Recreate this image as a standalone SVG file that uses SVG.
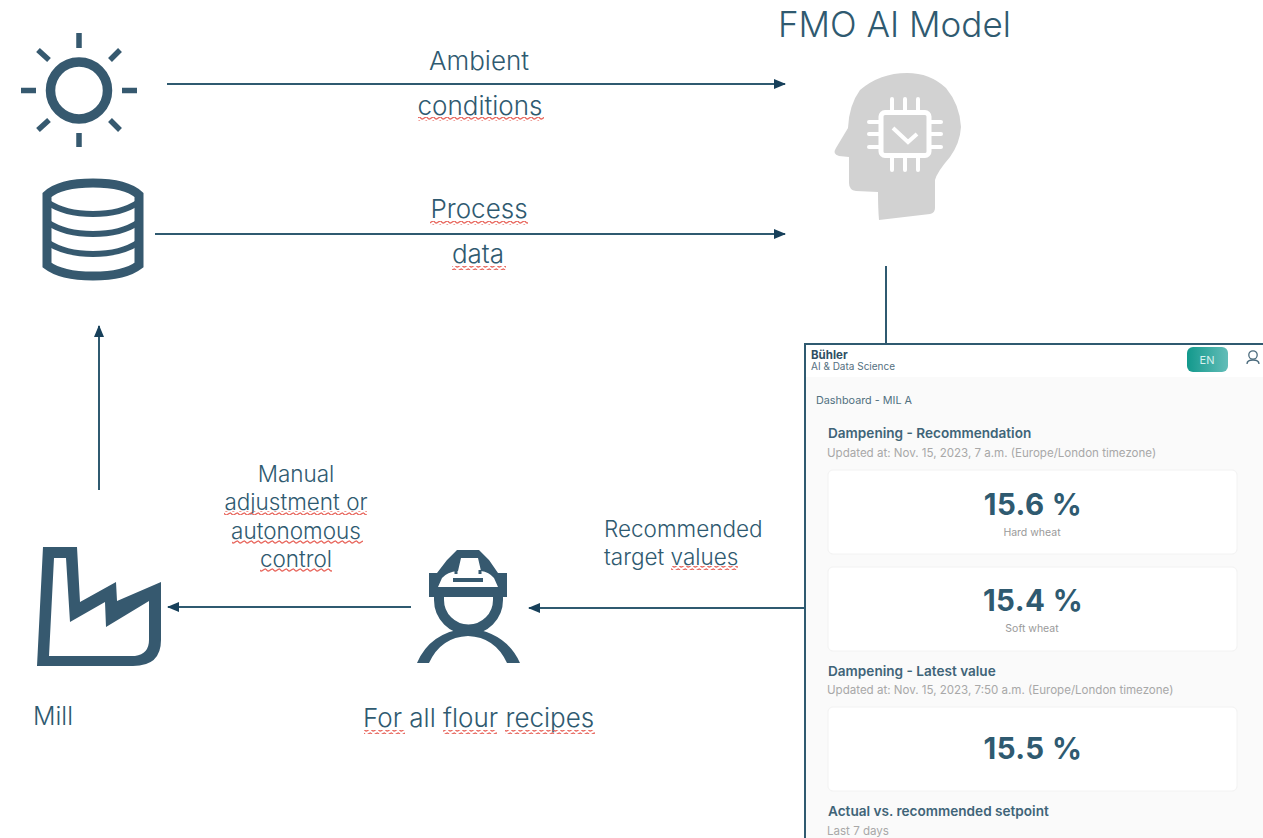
<svg xmlns="http://www.w3.org/2000/svg" width="1263" height="838" viewBox="0 0 1263 838">
<style>
text{font-family:Inter,"Liberation Sans",sans-serif}
.l{font-size:26px;fill:#2f5a70;font-weight:300}
.n{font-size:22.5px}
.m{text-anchor:middle}
.c{stroke:#2f5a70;stroke-width:2;fill:none}
.i{stroke:#36596f;fill:none;stroke-width:9}
.card{fill:#fff;stroke:#f2f2f2}
.v{font-size:29.5px;font-weight:700;fill:#2f5a70;text-anchor:middle;letter-spacing:.4px}
.h{font-size:13.6px;font-weight:600;fill:#3f6478}
.u{font-size:11.55px;fill:#a8a8a8}
.s{font-size:10.5px;fill:#9a9a9a;text-anchor:middle}
</style>
<defs>
<marker id="a" markerWidth="12" markerHeight="10" refX="11" refY="5" orient="auto" markerUnits="userSpaceOnUse"><path d="M0 0L12 5L0 10z" fill="#17405a"/></marker>
<pattern id="sq" width="7" height="4" patternUnits="userSpaceOnUse"><path d="M0 1Q1.75 4 3.5 2.5T7 1" fill="none" stroke="#e8685f" stroke-width="1.3"/></pattern>
<linearGradient id="g" x1="0" x2="1"><stop offset="0" stop-color="#12998c"/><stop offset="1" stop-color="#63bdb8"/></linearGradient>
</defs>
<rect width="1263" height="838" fill="#fff"/>
<g id="connectors">
<path class="c" d="M167 84H785" marker-end="url(#a)"/>
<path class="c" d="M155 234H785" marker-end="url(#a)"/>
<path class="c" d="M886 266V344"/>
<path class="c" d="M99 490V326" marker-end="url(#a)"/>
<path class="c" d="M411 607H168" marker-end="url(#a)"/>
<path class="c" d="M805 608H529" marker-end="url(#a)"/>
</g>
<g id="sun">
<circle class="i" cx="79" cy="90.5" r="28.5" style="stroke-width:9.5"/>
<path class="i" style="stroke-width:5.5" d="M79 33V48M79 133V147M21 90.500H36M122 90.500H137M38 50L49 60M110 60L120 50M38 130L49 120M110 120L120 130"/>
</g>
<g id="database">
<path class="i" d="M47 195Q60 183 93 183T139 195V265Q125 276 93 276T47 265Z"/>
<path class="i" style="stroke-width:6" d="M47 202Q65 214 93 214T139 202M47 222Q65 234 93 234T139 222M47 242Q65 254 93 254T139 242"/>
</g>
<g id="mill">
<path fill="#36596f" fill-rule="evenodd" d="M43 547H77L80 602L116 582L117 601L161 582V640Q161 666 133 666H37ZM54 558L49 656H135Q149 654 149 640V601L106 627L105 602L70 622L66 558Z"/>
</g>
<g id="worker">
<path class="i" style="stroke-width:10" d="M439 590V600A29 29 0 0 0 498 600V590"/>
<path fill="#36596f" d="M417 663Q430 632 468 628Q506 632 520 663H507Q495 637 468 636Q441 637 429 663Z"/>
<path fill="#36596f" d="M429 573H437L447 560L457 550H479L489 560L498 573H507V597H429Z"/>
<path fill="#fff" d="M438 587H498L494 578Q489 572 481 571L478 558H461L458 571Q447 572 442 578Z"/>
<path fill="none" stroke="#36596f" stroke-width="3" d="M456 574V570M480 574V570"/>
<rect x="453" y="578" width="30" height="4" fill="#36596f"/>
</g>
<g id="fmo-ai-model">
<path fill="#d2d2d2" d="M879 220Q878 208 878 192L856 191Q849 190 849 183V157L839 156Q832 154 836 148L848 128Q849 105 860 90Q880 73 907 73Q930 73 946 88Q960 105 961 127Q960 143 950 157Q937 172 935 180V208Q935 213 930 214Z"/>
<g fill="none" stroke="#fff">
<rect x="881" y="112.500" width="48" height="43" rx="4" stroke-width="5"/>
<path stroke-width="4" stroke-linecap="round" d="M892 112V99M905 112V99M918 112V99M892 156V170M905 156V170M918 156V170M881 122H869M881 134H869M881 147H869M929 122H941M929 134H941M929 147H941"/>
<path stroke-width="4" d="M893 128L908 142L917 134"/>
</g>
<text x="778" y="37" style="font-size:35px;fill:#2f5a70;font-weight:300">FMO AI Model</text>
</g>
<g id="labels">
<text class="l m" x="479" y="70">Ambient</text>
<text class="l m" x="480" y="115">conditions</text><rect x="418" y="117" width="126" height="4" fill="url(#sq)"/>
<text class="l m" x="479" y="218">Process</text><rect x="430" y="221" width="98" height="4" fill="url(#sq)"/>
<text class="l m" x="478" y="263">data</text><rect x="452" y="266" width="54" height="4" fill="url(#sq)"/>
<text class="l m n" x="296" y="482">Manual</text>
<text class="l m n" x="296" y="510">adjustment or</text><rect x="224" y="511" width="143" height="4" fill="url(#sq)"/>
<text class="l m n" x="296" y="539">autonomous</text><rect x="232" y="540" width="131" height="4" fill="url(#sq)"/>
<text class="l m n" x="296" y="567">control</text><rect x="260" y="568" width="72" height="4" fill="url(#sq)"/>
<text class="l n" x="604" y="537">Recommended</text>
<text class="l n" x="604" y="565">target values</text><rect x="671" y="566" width="67" height="4" fill="url(#sq)"/>
<text class="l" style="font-size:25px" x="33" y="725">Mill</text>
<text class="l" x="363" y="727">For all flour recipes</text>
<rect x="364" y="730" width="41" height="4" fill="url(#sq)"/><rect x="443" y="730" width="54" height="4" fill="url(#sq)"/><rect x="505" y="730" width="90" height="4" fill="url(#sq)"/>
</g>
<g id="dashboard">
<rect x="805" y="344" width="470" height="510" fill="#fafafa" stroke="#2f5a70" stroke-width="2"/>
<rect x="806" y="345" width="457" height="32" fill="#fff"/>
<text x="811" y="359" style="font-size:11.500px;font-weight:700;fill:#2f4f63">Bühler</text>
<text x="811" y="370" style="font-size:10px;fill:#55707f">AI &amp; Data Science</text>
<rect x="1187" y="347" width="41" height="25" rx="6" fill="url(#g)"/>
<text x="1207" y="364" style="font-size:11px;fill:#d8f0ee;text-anchor:middle">EN</text>
<circle cx="1253" cy="355" r="4.200" fill="none" stroke="#4a6a7c" stroke-width="1.300"/>
<path d="M1247 364Q1247 360 1253 360T1259 364" fill="none" stroke="#4a6a7c" stroke-width="1.300"/>
<text x="816" y="404" style="font-size:10.800px;fill:#51707f">Dashboard - MIL A</text>
<text class="h" x="828" y="438">Dampening - Recommendation</text>
<text class="u" x="827" y="457">Updated at: Nov. 15, 2023, 7 a.m. (Europe/London timezone)</text>
<rect class="card" x="828" y="470" width="409" height="84" rx="5"/>
<text class="v" x="1033" y="515">15.6 %</text>
<text class="s" x="1032" y="536">Hard wheat</text>
<rect class="card" x="828" y="567" width="409" height="84" rx="5"/>
<text class="v" x="1033" y="611">15.4 %</text>
<text class="s" x="1032" y="632">Soft wheat</text>
<text class="h" x="828" y="676">Dampening - Latest value</text>
<text class="u" x="827" y="694">Updated at: Nov. 15, 2023, 7:50 a.m. (Europe/London timezone)</text>
<rect class="card" x="828" y="707" width="409" height="84" rx="5"/>
<text class="v" x="1033" y="759">15.5 %</text>
<text class="h" x="828" y="816">Actual vs. recommended setpoint</text>
<text class="u" x="827" y="835">Last 7 days</text>
</g>
</svg>
